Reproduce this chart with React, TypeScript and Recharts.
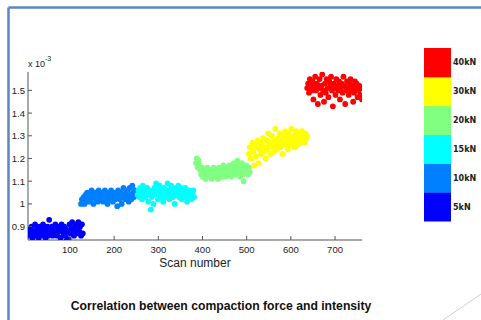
import { ScatterChart, Scatter, XAxis, YAxis } from 'recharts'

// intensity values (x 10^-3), one list per compaction force, sampled every 2nd scan
const darkBlue = [0.87, 0.89, 0.86, 0.88, 0.9, 0.85, 0.88, 0.87, 0.91, 0.86,
  0.89, 0.88, 0.85, 0.9, 0.87, 0.88, 0.86, 0.91, 0.89, 0.87,
  0.85, 0.88, 0.9, 0.86, 0.93, 0.88, 0.87, 0.9, 0.86, 0.89,
  0.88, 0.91, 0.87, 0.86, 0.9, 0.88, 0.89, 0.85, 0.91, 0.88,
  0.87, 0.9, 0.86, 0.89, 0.84, 0.88, 0.845, 0.91, 0.87, 0.89,
  0.92, 0.88, 0.86, 0.9, 0.91, 0.87, 0.89, 0.92, 0.88, 0.9,
  0.86, 0.91, 0.87]
const blue = [1.0, 1.02, 1.01, 1.03, 1.0, 1.04, 1.02, 1.05, 1.03, 1.01,
  1.04, 1.02, 1.06, 1.03, 1.0, 1.04, 1.05, 1.02, 1.03, 1.01,
  1.06, 1.04, 1.02, 1.05, 1.03, 1.01, 1.04, 1.06, 1.02, 1.03,
  1.0, 1.05, 1.04, 1.02, 1.06, 1.03, 1.01, 1.05, 1.04, 1.02,
  1.03, 0.99, 1.06, 1.04, 1.02, 1.05, 1.0, 1.03, 1.07, 1.04,
  1.02, 1.06, 1.03, 1.05, 1.01, 1.07, 1.04, 1.02, 1.08, 1.05,
  1.03, 1.06, 1.04]
const cyan = [1.04, 1.06, 1.03, 1.07, 1.05, 1.02, 1.08, 1.04, 1.06, 1.03,
  1.05, 1.07, 1.01, 1.04, 1.06, 0.975, 1.03, 1.05, 1.0, 1.07,
  1.04, 1.09, 1.06, 1.02, 1.05, 1.08, 1.03, 1.06, 1.04, 1.01,
  1.07, 1.05, 1.03, 1.06, 1.09, 1.04, 1.02, 1.06, 1.08, 1.05,
  1.03, 1.07, 1.0, 1.05, 1.04, 1.06, 1.08, 1.03, 1.05, 1.07,
  1.02, 1.04, 1.06, 1.03, 1.07, 1.05, 1.01, 1.04, 1.06, 1.03,
  1.05, 1.02, 1.04, 1.06, 1.03]
const green = [1.18, 1.2, 1.16, 1.19, 1.17, 1.15, 1.13, 1.16, 1.12, 1.14,
  1.15, 1.11, 1.13, 1.16, 1.14, 1.12, 1.15, 1.13, 1.11, 1.14,
  1.16, 1.12, 1.15, 1.13, 1.14, 1.11, 1.16, 1.13, 1.15, 1.12,
  1.14, 1.17, 1.13, 1.15, 1.12, 1.16, 1.14, 1.13, 1.17, 1.15,
  1.12, 1.16, 1.14, 1.18, 1.13, 1.15, 1.17, 1.19, 1.14, 1.16,
  1.12, 1.15, 1.18, 1.13, 1.1, 1.16, 1.14, 1.17, 1.15, 1.13,
  1.16, 1.14]
const yellow = [1.22, 1.25, 1.2, 1.24, 1.27, 1.23, 1.17, 1.26, 1.21, 1.25,
  1.28, 1.18, 1.24, 1.27, 1.22, 1.26, 1.29, 1.23, 1.25, 1.2,
  1.28, 1.24, 1.31, 1.26, 1.22, 1.27, 1.3, 1.25, 1.23, 1.28,
  1.33, 1.26, 1.24, 1.29, 1.27, 1.31, 1.25, 1.28, 1.22, 1.3,
  1.27, 1.32, 1.26, 1.29, 1.24, 1.31, 1.28, 1.26, 1.33, 1.29,
  1.27, 1.3, 1.25, 1.32, 1.28, 1.26, 1.31, 1.29, 1.27, 1.3,
  1.32, 1.28, 1.3, 1.27, 1.31, 1.29, 1.3]
const red = [1.51, 1.53, 1.49, 1.55, 1.52, 1.5, 1.54, 1.46, 1.52, 1.56,
  1.5, 1.53, 1.44, 1.51, 1.55, 1.48, 1.52, 1.57, 1.5, 1.45,
  1.53, 1.49, 1.55, 1.51, 1.47, 1.54, 1.52, 1.56, 1.5, 1.43,
  1.53, 1.51, 1.48, 1.55, 1.52, 1.5, 1.54, 1.46, 1.51, 1.53,
  1.49, 1.56, 1.52, 1.44, 1.5, 1.54, 1.51, 1.48, 1.53, 1.55,
  1.5, 1.52, 1.45, 1.49, 1.54, 1.51, 1.53, 1.47, 1.5, 1.52,
  1.48, 1.51, 1.46]

const forceLabels = ['5kN', '10kN', '15kN', '20kN', '30kN', '40kN']
const forceColors = ['#0000ff', '#0080ff', '#00ffff', '#80ff80', '#ffff00', '#ff0000']
const groupValues = [darkBlue, blue, cyan, green, yellow, red]
const groupStart = [5, 125, 253, 385, 505, 637]
const scanStep = 2

const xTicks = [100, 200, 300, 400, 500, 600, 700]
const yTicks = [0.9, 1, 1.1, 1.2, 1.3, 1.4, 1.5]

const font = 'Liberation Sans, Arial, sans-serif'

function YTick({ x, y, payload }: any) {
  return (
    <g>
      <line x1={x + 3} x2={x + 7} y1={y} y2={y} stroke="#555" />
      <text x={x} y={y + 3.5} textAnchor="end" fontSize={9.5} fontFamily={font} fill="#222">
        {payload.value}
      </text>
    </g>
  )
}

function XTick({ x, y, payload }: any) {
  return (
    <g>
      <line x1={x} x2={x} y1={y - 3} y2={y - 7} stroke="#555" />
      <text x={x} y={y + 10} textAnchor="middle" fontSize={9.5} fontFamily={font} fill="#222">
        {payload.value}
      </text>
    </g>
  )
}

const Dot = (color: string) => (p: any) => <circle cx={p.cx} cy={p.cy} r={2.9} fill={color} />

export default function App() {
  const series = groupValues.map((vals, g) =>
    vals.map((v, i) => ({ scan: groupStart[g] + i * scanStep, value: v }))
  )
  const boxTop = 48
  const boxH = 173 / 6

  return (
    <div style={{ position: 'absolute', left: 0, top: 0, width: 481, height: 320, overflow: 'hidden', background: '#fff' }}>
      <ScatterChart width={481} height={320} margin={{ top: 72, right: 119, bottom: 60, left: 0 }}>
        <XAxis
          type="number"
          dataKey="scan"
          domain={[5, 761]}
          ticks={xTicks}
          interval={0}
          allowDataOverflow
          height={20}
          tickSize={0}
          tickMargin={3}
          tickLine={false}
          stroke="#555"
          tick={<XTick />}
          label={{ value: 'Scan number', position: 'bottom', offset: -1.5, style: { fontSize: 12, fontFamily: font, fill: '#222' } }}
        />
        <YAxis
          type="number"
          dataKey="value"
          domain={[0.841, 1.581]}
          ticks={yTicks}
          interval={0}
          allowDataOverflow
          width={28}
          tickSize={0}
          tickMargin={3}
          tickLine={false}
          stroke="#555"
          tick={<YTick />}
        />
        {series.map((data, g) => (
          <Scatter
            key={forceLabels[g]}
            data={data}
            fill={forceColors[g]}
            shape={Dot(forceColors[g])}
            isAnimationActive={false}
          />
        ))}
      </ScatterChart>

      <svg width={481} height={320} style={{ position: 'absolute', left: 0, top: 0, pointerEvents: 'none' }}>
        {/* slide frame */}
        <line x1={8.5} y1={7.5} x2={481} y2={7.5} stroke="#5b87c6" strokeWidth={2.5} />
        <line x1={8.5} y1={7.5} x2={8.5} y2={320} stroke="#5b87c6" strokeWidth={2.5} />
        <line x1={443} y1={320} x2={481} y2={294} stroke="#cfcfcf" strokeWidth={1} />

        {/* exponent */}
        <text x={28} y={67} fontSize={9} fontFamily={font} fill="#222">x 10</text>
        <text x={45} y={61} fontSize={7} fontFamily={font} fill="#222">-3</text>

        {/* colour bar */}
        {forceLabels.map((lab, i) => {
          const row = forceLabels.length - 1 - i
          const y = boxTop + row * boxH
          return (
            <g key={lab}>
              <rect x={424} y={y} width={27} height={boxH + 0.5} fill={forceColors[i]} />
              <text x={453} y={y + boxH / 2 + 3} fontSize={8} fontWeight="bold" fontFamily="DejaVu Sans, sans-serif" fill="#222">
                {lab}
              </text>
            </g>
          )
        })}

        <text x={221} y={309.5} textAnchor="middle" fontSize={12.2} fontWeight="bold" fontFamily={font} fill="#111">
          Correlation between compaction force and intensity
        </text>
      </svg>
    </div>
  )
}
